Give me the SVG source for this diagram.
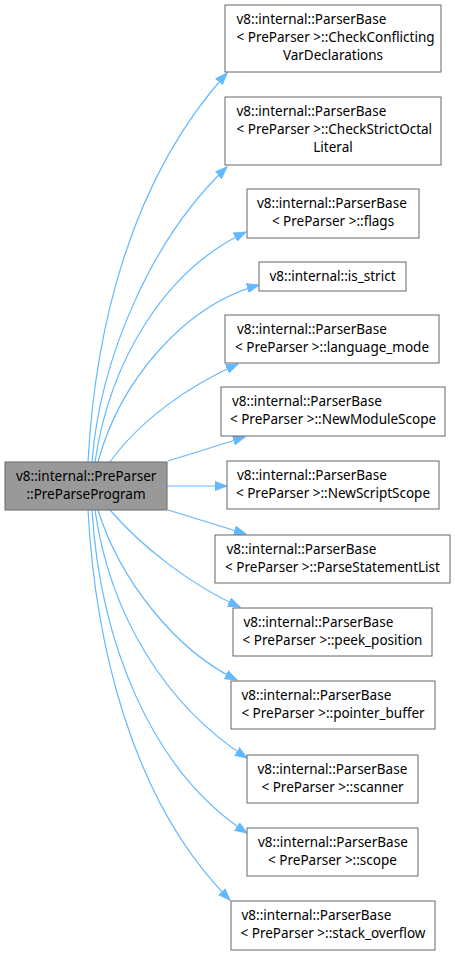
<svg xmlns="http://www.w3.org/2000/svg" width="455" height="956" viewBox="0 0 455 956">
<defs>
<style>
.n{fill:#ffffff;stroke:#666666;stroke-width:1}
.m{fill:#999999;stroke:#666666;stroke-width:1}
text{font-family:"Noto Sans","DejaVu Sans",sans-serif;font-size:13.5px;fill:#000000}
.c{text-anchor:middle}
.e{fill:none;stroke:#63b8ff;stroke-width:1.2}
</style>
<marker id="ah" markerUnits="userSpaceOnUse" markerWidth="13" markerHeight="10" refX="12" refY="5" orient="auto" viewBox="0 0 13 10">
<path d="M0,0.5 L12,5 L0,9.5 z" fill="#63b8ff" stroke="#63b8ff"/>
</marker>
</defs>
<rect width="455" height="956" fill="#ffffff"/>
<g id="edges">
<path class="e" marker-end="url(#ah)" d="M88,462 C95,330 130,180 227,73"/>
<path class="e" marker-end="url(#ah)" d="M92,462 C100,360 150,240 227,167"/>
<path class="e" marker-end="url(#ah)" d="M95,462 C110,360 165,270 246,232"/>
<path class="e" marker-end="url(#ah)" d="M98,462 C120,380 185,305 259,285"/>
<path class="e" marker-end="url(#ah)" d="M110,462 C140,420 190,385 238,364"/>
<path class="e" marker-end="url(#ah)" d="M168,461 L245,437"/>
<path class="e" marker-end="url(#ah)" d="M167,486 L227,486"/>
<path class="e" marker-end="url(#ah)" d="M168,510 L246,534"/>
<path class="e" marker-end="url(#ah)" d="M110,510 C140,545 190,585 240,607"/>
<path class="e" marker-end="url(#ah)" d="M98,510 C120,580 175,650 237,680"/>
<path class="e" marker-end="url(#ah)" d="M95,510 C110,615 165,705 247,758"/>
<path class="e" marker-end="url(#ah)" d="M92,510 C100,640 150,770 247,833"/>
<path class="e" marker-end="url(#ah)" d="M88,510 C95,640 130,800 230,900"/>
</g>
<g id="main">
<rect class="m" x="5" y="462" width="162" height="48"/>
<text x="16" y="481">v8::internal::PreParser</text>
<text class="c" x="86" y="499">::PreParseProgram</text>
</g>
<g id="n1">
<rect class="n" x="225" y="5" width="216" height="67"/>
<text x="236.5" y="24">v8::internal::ParserBase</text>
<text x="236.5" y="42">&lt; PreParser &gt;::CheckConflicting</text>
<text class="c" x="333" y="60">VarDeclarations</text>
</g>
<g id="n2">
<rect class="n" x="225" y="97" width="216" height="68"/>
<text x="236.5" y="116">v8::internal::ParserBase</text>
<text x="236.5" y="134">&lt; PreParser &gt;::CheckStrictOctal</text>
<text class="c" x="333" y="152">Literal</text>
</g>
<g id="n3">
<rect class="n" x="247" y="189" width="172" height="49"/>
<text x="257" y="208">v8::internal::ParserBase</text>
<text class="c" x="333" y="226">&lt; PreParser &gt;::flags</text>
</g>
<g id="n4">
<rect class="n" x="259" y="262" width="147" height="29"/>
<text class="c" x="332.5" y="281">v8::internal::is_strict</text>
</g>
<g id="n5">
<rect class="n" x="225" y="315" width="214" height="48"/>
<text x="237" y="334">v8::internal::ParserBase</text>
<text class="c" x="332" y="352">&lt; PreParser &gt;::language_mode</text>
</g>
<g id="n6">
<rect class="n" x="221" y="387" width="224" height="49"/>
<text x="232" y="406">v8::internal::ParserBase</text>
<text class="c" x="333" y="424">&lt; PreParser &gt;::NewModuleScope</text>
</g>
<g id="n7">
<rect class="n" x="227" y="461" width="212" height="48"/>
<text x="237" y="480">v8::internal::ParserBase</text>
<text class="c" x="333" y="498">&lt; PreParser &gt;::NewScriptScope</text>
</g>
<g id="n8">
<rect class="n" x="215" y="535" width="235" height="48"/>
<text x="226.5" y="554">v8::internal::ParserBase</text>
<text class="c" x="332.5" y="572">&lt; PreParser &gt;::ParseStatementList</text>
</g>
<g id="n9">
<rect class="n" x="233" y="608" width="199" height="48"/>
<text x="243.5" y="627">v8::internal::ParserBase</text>
<text class="c" x="332.5" y="645">&lt; PreParser &gt;::peek_position</text>
</g>
<g id="n10">
<rect class="n" x="231" y="681" width="204" height="48"/>
<text x="241.5" y="700">v8::internal::ParserBase</text>
<text class="c" x="333" y="718">&lt; PreParser &gt;::pointer_buffer</text>
</g>
<g id="n11">
<rect class="n" x="247" y="755" width="171" height="48"/>
<text x="257.5" y="774">v8::internal::ParserBase</text>
<text class="c" x="332.5" y="792">&lt; PreParser &gt;::scanner</text>
</g>
<g id="n12">
<rect class="n" x="247" y="828" width="171" height="48"/>
<text x="258" y="847">v8::internal::ParserBase</text>
<text class="c" x="332.5" y="865">&lt; PreParser &gt;::scope</text>
</g>
<g id="n13">
<rect class="n" x="231" y="901" width="204" height="49"/>
<text x="241.5" y="920">v8::internal::ParserBase</text>
<text class="c" x="333" y="938">&lt; PreParser &gt;::stack_overflow</text>
</g>
</svg>
